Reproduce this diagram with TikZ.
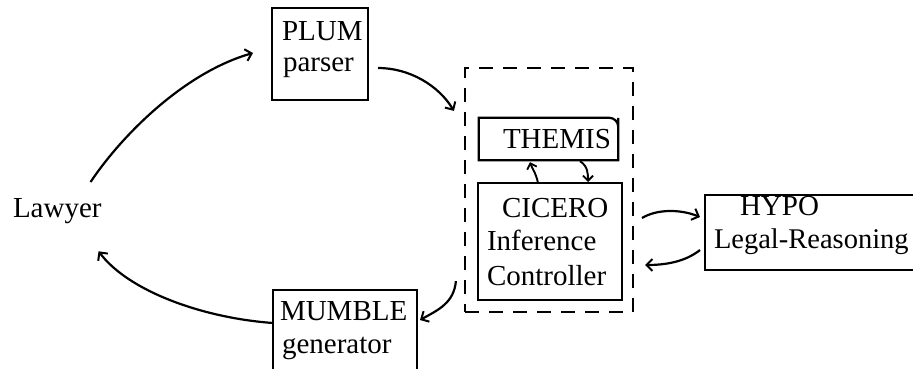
\documentclass[tikz,border=0pt]{standalone}
\usepackage{fontspec}
\setmainfont{Liberation Serif}
\usetikzlibrary{arrows.meta}
\tikzset{
  box/.style={draw, line width=2.2pt, inner sep=0pt, outer sep=0pt},
  lbl/.style={inner sep=0pt, outer sep=0pt, anchor=base west, font=\fontsize{29}{34}\selectfont},
  conn/.style={line width=2.2pt, -{Straight Barb[length=6pt,width=12pt,line width=2pt]}},
  smallconn/.style={line width=1.9pt, -{Straight Barb[length=5pt,width=10pt,line width=1.8pt]}},
  dashbox/.style={draw, line width=2.2pt, dash pattern=on 14pt off 10pt, inner sep=0pt}
}
\begin{document}
\begin{tikzpicture}[x=1pt,y=-1pt]
\useasboundingbox (0,0) rectangle (913,369);
\clip (0,0) rectangle (913,369);
\fill[white] (0,0) rectangle (913,369);

% boxes
\node[box, minimum width=96pt, minimum height=92pt] (plum) at (320,54) {};
\node[dashbox, minimum width=168pt, minimum height=244pt] (dash) at (549,190) {};
\node[inner sep=0pt, minimum width=139pt, minimum height=42pt] (themis) at (548.5,139) {};
\draw[line width=2.2pt] (themis.north east) [rounded corners=0pt] -- (themis.south east) -- (themis.south west) -- (themis.north west) [rounded corners=9pt] -- (themis.north east) -- (themis.south east);
\node[box, minimum width=144pt, minimum height=117pt] (cicero) at (550,241.5) {};
\node[box, minimum width=230pt, minimum height=75pt] (hypo) at (820,232.5) {};
\node[box, minimum width=144pt, minimum height=95pt] (mumble) at (345,337.5) {};

% texts
\node[lbl] (lawyer) at (13,217) {Lawyer};
\node[lbl] (plumA) at (282,41) {PLUM};
\node[lbl] (plumB) at (283,72) {parser};
\node[lbl] (themisT) at (503,148) {THEMIS};
\node[lbl] (ciceroA) at (502,217) {CICERO};
\node[lbl] (ciceroB) at (487,250) {Inference};
\node[lbl] (ciceroC) at (487,285) {Controller};
\node[lbl] (hypoA) at (740,215) {HYPO};
\node[lbl, font=\fontsize{28.5}{34}\selectfont] (hypoB) at (714,248) {Legal-Reasoning};
\node[lbl] (mumbleA) at (280,320) {MUMBLE};
\node[lbl] (mumbleB) at (282,353) {generator};

% connectors
\draw[conn] ([xshift=-11pt,yshift=16pt]lawyer.north east)
  .. controls +(30,-45) and +(-70,20) .. ([xshift=-19pt,yshift=1pt]plum.west);
\draw[conn] ([xshift=10pt,yshift=-14pt]plum.east)
  .. controls +(32,0) and +(-15,-25) .. ([xshift=-10pt,yshift=-44pt]dash.north west);
\draw[conn] ([xshift=-8pt,yshift=32pt]dash.south west)
  .. controls +(-2,22) and +(18,-10) .. ([xshift=3pt,yshift=17.5pt]mumble.east);
\draw[conn] ([yshift=14.5pt]mumble.west)
  .. controls +(-70,-5) and +(30,40) .. ([xshift=-3pt,yshift=-28pt]lawyer.south east);
\draw[conn] ([xshift=20pt,yshift=23.5pt]cicero.east)
  .. controls +(15,-9) and +(-20,-8) .. ([xshift=-5pt,yshift=15.5pt]hypo.west);
\draw[conn] ([xshift=-5pt,yshift=-17.5pt]hypo.west)
  .. controls +(-15,12) and +(20,0) .. ([xshift=23pt,yshift=-23.5pt]cicero.east);
\draw[smallconn] ([xshift=-12pt]cicero.north)
  .. controls +(-2,-10) and +(2,6) .. ([xshift=-18.5pt,yshift=-2pt]themis.south);
\draw[smallconn] ([xshift=31.5pt,yshift=-1pt]themis.south)
  .. controls +(8,5) and +(0,-8) .. ([xshift=38pt,yshift=1pt]cicero.north);
\end{tikzpicture}
\end{document}
